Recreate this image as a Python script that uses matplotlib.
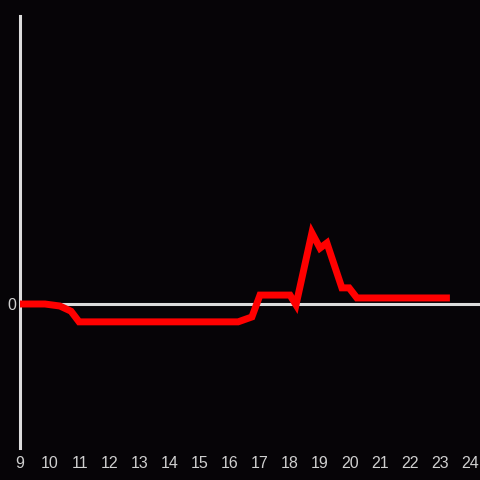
import matplotlib
matplotlib.use("Agg")
import matplotlib.pyplot as plt

# time of day (hours) and value
hours = [9.0, 9.83, 10.33, 10.7, 10.97, 16.27, 16.73, 17.0, 18.0, 18.2,
         18.73, 19.0, 19.23, 19.73, 19.97, 20.23, 23.33]
values = [0.0, 0.0, -0.7, -2.5, -6.2, -6.2, -4.5, 3.1, 3.1, -0.3,
          24.7, 19.4, 21.2, 5.6, 5.6, 2.1, 2.1]
x_ticks = list(range(9, 25))

bg = "#060407"
axis_col = "#dcdcdc"
text_col = "#cfcfcf"

fig = plt.figure(figsize=(4.8, 4.8), dpi=100, facecolor=bg)
ax = fig.add_axes([20 / 480, 32 / 480, 460 / 480, 432 / 480])
ax.set_facecolor(bg)

ax.axhline(0, color=axis_col, lw=2.2, zorder=1)
ax.plot(hours, values, color="#ff0000", lw=5, solid_joinstyle="miter",
        solid_capstyle="butt", zorder=3)

ax.set_xlim(9, 9 + 460 / 30)
ax.set_ylim(-50, 100)
ax.set_xticks(x_ticks)
ax.set_xticklabels([str(t) for t in x_ticks])
ax.set_yticks([0])
ax.set_yticklabels(["0"])

for side in ["top", "right", "bottom"]:
    ax.spines[side].set_visible(False)
ax.spines["left"].set_color(axis_col)
ax.spines["left"].set_linewidth(2.2)

ax.tick_params(axis="both", length=0, colors=text_col, labelsize=11.5)
ax.tick_params(axis="x", pad=6)
ax.tick_params(axis="y", pad=3)
for lbl in ax.get_xticklabels() + ax.get_yticklabels():
    lbl.set_family("Liberation Sans")

fig.savefig("out.png", dpi=100, facecolor=bg)
